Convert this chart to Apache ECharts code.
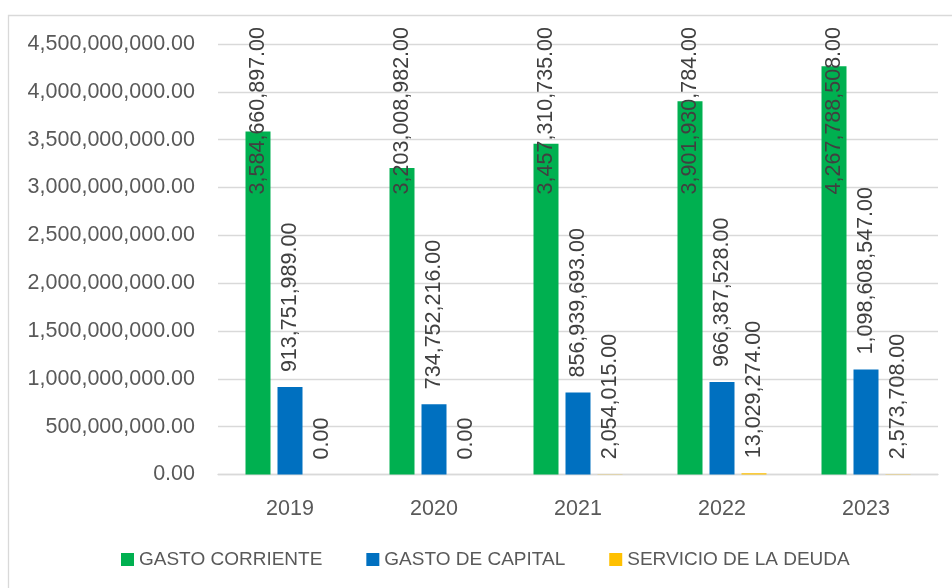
<!DOCTYPE html>
<html>
	<head>
		<meta charset="utf-8" />
		<title></title>
		<style type="text/css">
			html, body { margin: 0; padding: 0; background: #ffffff; }
			#chart { width: 952px; height: 588px; }
		</style>
		<script src="https://cdn.jsdelivr.net/npm/echarts@6/dist/echarts.min.js" type="text/javascript" charset="utf-8"></script>
	</head>
	<body>
		<div id="chart"></div>
		<script type="text/javascript">
			var years = ['2019', '2020', '2021', '2022', '2023'];
			var gastoCorriente = [3584660897, 3203008982, 3457310735, 3901930784, 4267788508];
			var gastoCapital = [913751989, 734752216, 856939693, 966387528, 1098608547];
			var servicioDeuda = [0, 0, 2054015, 13029274, 2573708];
			var seriesNames = ['GASTO CORRIENTE', 'GASTO DE CAPITAL', 'SERVICIO DE LA DEUDA'];

			function fmt(v){
				return Number(v).toLocaleString('en-US', {minimumFractionDigits: 2, maximumFractionDigits: 2});
			}

			var font = 'Liberation Sans';
			var topLimit = 27; // labels are pushed down so they stay inside the chart

			function barLabel(){
				return {
					show: true,
					position: 'top',
					distance: 15,
					rotate: 90,
					align: 'left',
					verticalAlign: 'middle',
					color: '#404040',
					fontFamily: font,
					fontSize: 21.5,
					formatter: function(p){ return fmt(p.value); }
				};
			}

			function keepInside(p){
				var r = p.labelRect;
				if (r.y < topLimit) {
					return { y: topLimit + r.height };
				}
				return {};
			}

			var myChart = echarts.init(document.getElementById('chart'));
			var option = {
				animation: false,
				color: ['#00B050', '#0070C0', '#FFC000'],
				graphic: [{
					type: 'rect',
					shape: { x: 8.5, y: 15.5, width: 1200, height: 1200 },
					style: { fill: 'none', stroke: '#d9d9d9', lineWidth: 1.3 },
					silent: true,
					z: -1
				}],
				grid: { left: 218, right: 14, top: 44, bottom: 113.5 },
				legend: {
					data: seriesNames,
					left: 116,
					top: 545,
					itemWidth: 13,
					itemHeight: 13,
					itemGap: 44,
					icon: 'rect',
					textStyle: { color: '#595959', fontFamily: font, fontSize: 19 }
				},
				xAxis: {
					type: 'category',
					data: years,
					axisLine: { lineStyle: { color: '#d9d9d9', width: 1.3 } },
					axisTick: { show: false },
					axisLabel: { color: '#595959', fontFamily: font, fontSize: 21.5, margin: 24 }
				},
				yAxis: {
					type: 'value',
					min: 0,
					max: 4500000000,
					interval: 500000000,
					axisLine: { show: false },
					axisTick: { show: false },
					splitLine: { lineStyle: { color: '#d9d9d9', width: 1.3 } },
					axisLabel: {
						color: '#595959', fontFamily: font, fontSize: 21.5, margin: 23,
						formatter: function(v){ return fmt(v); }
					}
				},
				series: [
					{
						name: seriesNames[0], type: 'bar', data: gastoCorriente,
						barWidth: 25, barGap: '28%',
						label: barLabel(),
						labelLayout: keepInside
					},
					{
						name: seriesNames[1], type: 'bar', data: gastoCapital,
						barWidth: 25, barGap: '28%',
						label: barLabel(),
						labelLayout: keepInside
					},
					{
						name: seriesNames[2], type: 'bar', data: servicioDeuda,
						barWidth: 25, barGap: '28%',
						label: barLabel(),
						labelLayout: keepInside
					}
				]
			};
			myChart.setOption(option);
		</script>
	</body>
</html>
